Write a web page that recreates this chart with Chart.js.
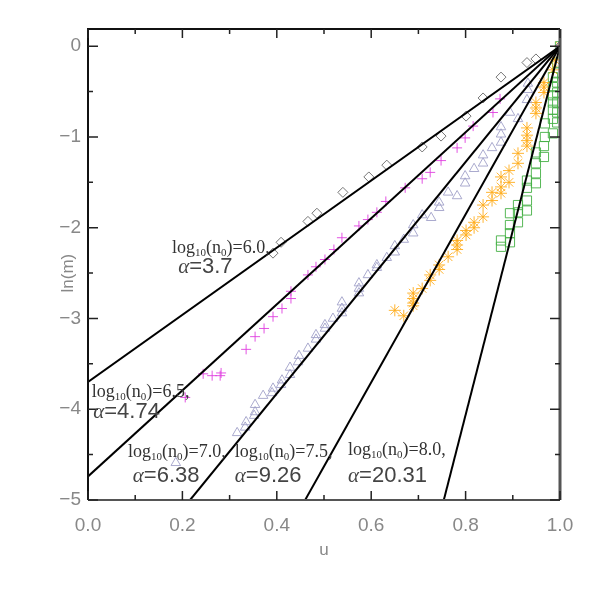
<!DOCTYPE html>
<html>
<head>
<meta charset="utf-8">
<script src="https://cdn.jsdelivr.net/npm/chart.js@4"></script>
<style>
  html, body { margin: 0; padding: 0; background: #fff; }
  #wrap { width: 590px; height: 590px; }
</style>
</head>
<body>
<div id="wrap"><canvas id="chart"></canvas></div>
<script>
// log10(n0)=6.0 (diamonds)
const diamondU = [1.000, 0.949, 0.930, 0.875, 0.837, 0.801, 0.748, 0.708, 0.633, 0.595, 0.540, 0.485, 0.466, 0.409, 0.392];
const diamondLnM = [0.00, -0.14, -0.18, -0.34, -0.57, -0.77, -0.99, -1.11, -1.31, -1.44, -1.61, -1.84, -1.93, -2.16, -2.28];

// log10(n0)=6.5 (plus)
const plusU = [1.000, 0.873, 0.858, 0.816, 0.799, 0.782, 0.748, 0.725, 0.708, 0.672, 0.631, 0.612, 0.593, 0.574, 0.538, 0.521,
  0.502, 0.483, 0.466, 0.430, 0.430, 0.411, 0.392, 0.373, 0.354, 0.335, 0.282, 0.280, 0.263, 0.244, 0.206];
const plusLnM = [0.00, -0.58, -0.73, -0.88, -1.01, -1.12, -1.26, -1.39, -1.46, -1.56, -1.71, -1.83, -1.91, -1.98, -2.11, -2.24,
  -2.35, -2.43, -2.52, -2.70, -2.78, -2.89, -2.98, -3.11, -3.20, -3.34, -3.60, -3.63, -3.63, -3.61, -3.87];

// log10(n0)=7.0 (triangles)
const triU = [1.000, 0.932, 0.932, 0.930, 0.911, 0.894, 0.875, 0.875, 0.875, 0.856, 0.837, 0.837, 0.818, 0.799, 0.799, 0.763,
  0.782, 0.744, 0.744, 0.708, 0.727, 0.689, 0.689, 0.669, 0.650, 0.650, 0.633, 0.612, 0.612, 0.593, 0.574, 0.574, 0.574,
  0.538, 0.538, 0.538, 0.519, 0.502, 0.502, 0.483, 0.483, 0.466, 0.447, 0.445, 0.428, 0.428, 0.411, 0.409, 0.392, 0.390,
  0.371, 0.354, 0.354, 0.352, 0.335, 0.333, 0.316, 0.186];
const triLnM = [0.00, -0.41, -0.48, -0.59, -0.80, -0.73, -0.89, -0.97, -1.06, -1.12, -1.20, -1.29, -1.35, -1.43, -1.51, -1.61,
  -1.65, -1.72, -1.78, -1.86, -1.89, -1.97, -2.06, -2.13, -2.20, -2.27, -2.33, -2.41, -2.44, -2.52, -2.61, -2.67, -2.72,
  -2.82, -2.89, -2.94, -3.00, -3.07, -3.11, -3.18, -3.23, -3.33, -3.41, -3.48, -3.54, -3.62, -3.68, -3.73, -3.77, -3.82,
  -3.85, -3.95, -4.03, -4.07, -4.14, -4.20, -4.26, -4.59];

// log10(n0)=7.5 (asterisks)
const starU = [1.000, 0.989, 0.985, 0.966, 0.966, 0.966, 0.949, 0.949, 0.949, 0.930, 0.930, 0.930, 0.930, 0.911, 0.911, 0.892,
  0.892, 0.875, 0.875, 0.875, 0.856, 0.856, 0.837, 0.837, 0.818, 0.818, 0.801, 0.801, 0.782, 0.782, 0.782, 0.763, 0.744,
  0.744, 0.725, 0.725, 0.708, 0.689, 0.689, 0.689, 0.689, 0.669, 0.650];
const starLnM = [0.00, -0.15, -0.26, -0.40, -0.45, -0.51, -0.62, -0.68, -0.74, -0.90, -0.98, -1.04, -1.10, -1.18, -1.29, -1.37,
  -1.50, -1.44, -1.55, -1.62, -1.61, -1.70, -1.75, -1.88, -1.94, -2.00, -2.03, -2.08, -2.14, -2.19, -2.24, -2.32, -2.41,
  -2.46, -2.52, -2.58, -2.67, -2.72, -2.78, -2.83, -2.86, -2.97, -2.91];

// log10(n0)=8.0 (squares)
const squareU = [1.000, 0.994, 0.994, 0.994, 0.994, 0.994, 0.994, 0.994, 0.985, 0.985, 0.985, 0.985, 0.985, 0.985, 0.985,
  0.968, 0.968, 0.966, 0.966, 0.949, 0.949, 0.949, 0.949, 0.930, 0.930, 0.930, 0.930, 0.911, 0.911, 0.911, 0.894, 0.894,
  0.894, 0.894, 0.875, 0.875];
const squareLnM = [0.00, -0.18, -0.29, -0.40, -0.51, -0.62, -0.73, -0.84, -0.34, -0.45, -0.54, -0.62, -0.70, -0.80, -0.96,
  -0.85, -1.00, -1.10, -1.22, -1.17, -1.29, -1.40, -1.51, -1.48, -1.56, -1.70, -1.81, -1.75, -1.83, -1.94, -1.84, -1.97,
  -2.06, -2.16, -2.14, -2.21];

// fitted slopes ln(m) = alpha * (u - 1)
const log10n0 = ["6.0", "6.5", "7.0", "7.5", "8.0"];
const alphas = [3.7, 4.74, 6.38, 9.26, 20.31];

const xTicks = [0, 0.2, 0.4, 0.6, 0.8, 1.0];
const yTicks = [0, -1, -2, -3, -4, -5];

const Y_MIN = -5, Y_MAX = 0.19;

function pts(us, ys) {
  return us.map((u, i) => ({ x: u, y: ys[i] }));
}

function fitLine(alpha) {
  const uLow = Math.max(0, 1 + Y_MIN / alpha);
  return [{ x: uLow, y: alpha * (uLow - 1) }, { x: 1, y: 0 }];
}

const scatterStyle = (label, data, style, color, radius) => ({
  type: "scatter",
  label: label,
  data: data,
  pointStyle: style,
  pointRadius: radius,
  pointBorderColor: color,
  pointBackgroundColor: "rgba(0,0,0,0)",
  pointBorderWidth: 0.9,
  order: 2,
});

const datasets = [
  scatterStyle("6.0", pts(diamondU, diamondLnM), "rectRot", "#666666", 5),
  scatterStyle("6.5", pts(plusU, plusLnM), "cross", "#e040e0", 5),
  scatterStyle("7.0", pts(triU, triLnM), "triangle", "#a0a0c8", 5.5),
  scatterStyle("7.5", pts(starU, starLnM), "star", "#ffab1a", 6),
  scatterStyle("8.0", pts(squareU, squareLnM), "rect", "#44b044", 6.5),
];
alphas.forEach((a) => {
  datasets.push({
    type: "line",
    label: "fit " + a,
    data: fitLine(a),
    borderColor: "#000",
    borderWidth: 2,
    pointRadius: 0,
    fill: false,
    order: 1,
  });
});

// annotation positions in data units (left edge, baseline)
const labelU = [0.178, 0.008, 0.085, 0.311, 0.551];
const labelLnM = [-2.28, -3.87, -4.53, -4.53, -4.50];
const alphaU = [0.191, 0.011, 0.095, 0.311, 0.551];
const alphaLnM = [-2.50, -4.10, -4.80, -4.80, -4.80];

const framePlugin = {
  id: "frame",
  afterDatasetsDraw(chart) {
    const { ctx, chartArea: a, scales } = chart;
    const xs = scales.x, ys = scales.y;
    ctx.save();
    // frame
    ctx.lineWidth = 2;
    ctx.strokeStyle = "#111";
    ctx.beginPath();
    ctx.moveTo(a.left, a.bottom);
    ctx.lineTo(a.left, a.top);
    ctx.lineTo(a.right, a.top);
    ctx.stroke();
    ctx.strokeStyle = "#555";
    ctx.beginPath();
    ctx.moveTo(a.left, a.bottom);
    ctx.lineTo(a.right, a.bottom);
    ctx.stroke();
    ctx.lineWidth = 3;
    ctx.beginPath();
    ctx.moveTo(a.right, a.bottom);
    ctx.lineTo(a.right, a.top);
    ctx.stroke();

    // inward ticks
    ctx.lineWidth = 1.5;
    ctx.strokeStyle = "#222";
    for (let i = 0; i <= 10; i++) {
      const v = i / 10;
      const px = xs.getPixelForValue(v);
      const len = i % 2 === 0 ? 9 : 5;
      ctx.beginPath();
      ctx.moveTo(px, a.bottom);
      ctx.lineTo(px, a.bottom - len);
      ctx.moveTo(px, a.top);
      ctx.lineTo(px, a.top + len);
      ctx.stroke();
    }
    for (let i = 0; i <= 10; i++) {
      const v = -i / 2;
      const py = ys.getPixelForValue(v);
      const len = i % 2 === 0 ? 10 : 5;
      ctx.beginPath();
      ctx.moveTo(a.left, py);
      ctx.lineTo(a.left + len, py);
      ctx.moveTo(a.right, py);
      ctx.lineTo(a.right - len, py);
      ctx.stroke();
    }

    // axis titles
    ctx.fillStyle = "#888";
    ctx.font = '17px "Liberation Sans"';
    ctx.textAlign = "center";
    ctx.textBaseline = "middle";
    ctx.fillText("u", (a.left + a.right) / 2, 550);
    ctx.save();
    ctx.translate(68, (ys.getPixelForValue(-2.5)));
    ctx.rotate(-Math.PI / 2);
    ctx.fillText("ln(m)", 0, 0);
    ctx.restore();

    // annotations
    ctx.textAlign = "left";
    ctx.textBaseline = "alphabetic";
    log10n0.forEach((n, i) => {
      let x = xs.getPixelForValue(labelU[i]);
      const y = ys.getPixelForValue(labelLnM[i]);
      ctx.fillStyle = "#333";
      const big = '18px "Liberation Serif"', small = '11px "Liberation Serif"';
      const parts = [["log", big, 0], ["10", small, 3], ["(n", big, 0], ["0", small, 3], [")=" + n + ",", big, 0]];
      parts.forEach(([t, f, dy]) => {
        ctx.font = f;
        ctx.fillText(t, x, y + dy);
        x += ctx.measureText(t).width;
      });
      let ax = xs.getPixelForValue(alphaU[i]);
      const ay = ys.getPixelForValue(alphaLnM[i]);
      ctx.fillStyle = "#444";
      ctx.font = 'italic 21px "Liberation Serif"';
      ctx.fillText("\u03b1", ax, ay);
      ax += ctx.measureText("\u03b1").width;
      ctx.font = '22px "Liberation Sans"';
      ctx.fillText("=" + alphas[i], ax, ay);
    });
    ctx.restore();
  },
};

new Chart(document.getElementById("chart"), {
  data: { datasets: datasets },
  options: {
    responsive: true,
    maintainAspectRatio: false,
    animation: false,
    layout: { padding: { top: 29, right: 30, left: 0, bottom: 0 } },
    plugins: { legend: { display: false }, tooltip: { enabled: false } },
    scales: {
      x: {
        type: "linear",
        min: 0,
        max: 1,
        afterFit: (s) => { s.height = 90; },
        afterBuildTicks: (s) => { s.ticks = xTicks.map((v) => ({ value: v })); },
        grid: { display: false, drawTicks: false },
        border: { display: false },
        ticks: {
          padding: 14,
          color: "#888",
          font: { family: "Liberation Sans", size: 19 },
          callback: (v) => Number(v).toFixed(1),
        },
      },
      y: {
        type: "linear",
        min: Y_MIN,
        max: Y_MAX,
        afterFit: (s) => { s.width = 88; },
        afterBuildTicks: (s) => { s.ticks = yTicks.map((v) => ({ value: v })); },
        grid: { display: false, drawTicks: false },
        border: { display: false },
        ticks: {
          padding: 7,
          color: "#888",
          font: { family: "Liberation Sans", size: 19 },
          callback: (v) => (v < 0 ? "\u2212" + Math.abs(v) : String(v)),
        },
      },
    },
  },
  plugins: [framePlugin],
});
</script>
</body>
</html>
